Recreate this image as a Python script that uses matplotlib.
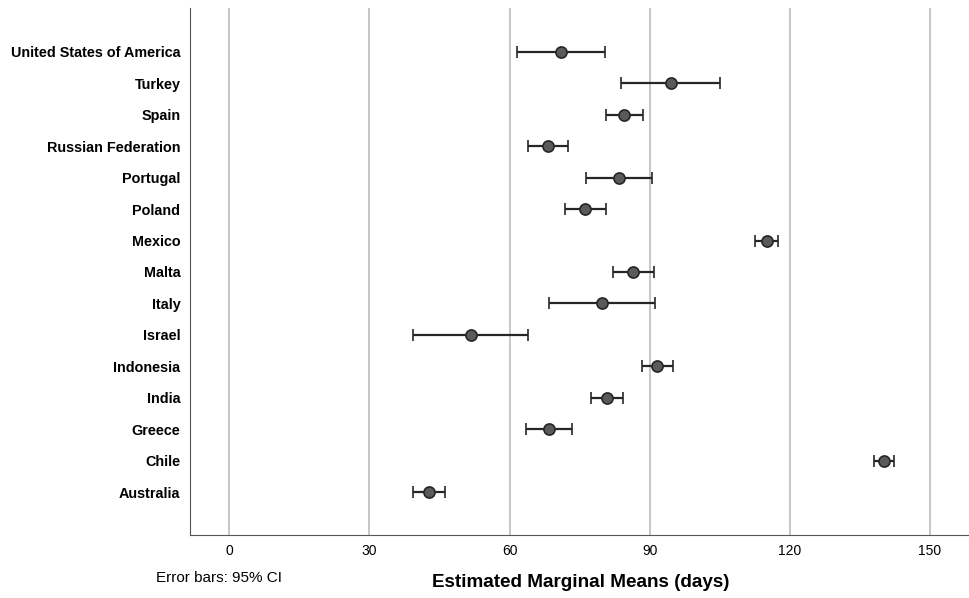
import matplotlib.pyplot as plt
import numpy as np

plt.rcParams['font.family'] = ['Liberation Sans', 'DejaVu Sans']

countries = ["Australia", "Chile", "Greece", "India", "Indonesia", "Israel", "Italy",
             "Malta", "Mexico", "Poland", "Portugal", "Russian Federation", "Spain",
             "Turkey", "United States of America"]
means = [42.7, 140.1, 68.5, 80.8, 91.6, 51.7, 79.8, 86.5, 115.1, 76.2, 83.4, 68.3, 84.6, 94.6, 71.0]
ci_low = [39.3, 138.1, 63.6, 77.4, 88.4, 39.3, 68.5, 82.2, 112.5, 71.9, 76.4, 64.0, 80.7, 83.9, 61.6]
ci_high = [46.1, 142.4, 73.4, 84.2, 95.0, 63.9, 91.2, 90.9, 117.6, 80.6, 90.5, 72.6, 88.5, 105.0, 80.5]

means = np.array(means)
err = [means - np.array(ci_low), np.array(ci_high) - means]
ypos = np.arange(len(countries))

fig = plt.figure(figsize=(9.7, 5.98), dpi=100)
ax = fig.add_axes([0.196, 0.105, 0.802, 0.882])

for xv in [0, 30, 60, 90, 120, 150]:
    ax.axvline(xv, color='#bdbdbd', lw=1.2, zorder=0)

ax.errorbar(means, ypos, xerr=err, fmt='o', color='#262626', ecolor='#262626',
            elinewidth=1.6, capsize=4, capthick=1.6, markersize=8,
            markerfacecolor='#5a5a5a', markeredgecolor='#262626', markeredgewidth=1.2)

ax.set_xlim(-8.4, 158.2)
ax.set_ylim(-1.37, 15.4)
ax.set_xticks([0, 30, 60, 90, 120, 150])
ax.set_yticks(ypos)
ax.set_yticklabels(countries, fontsize=10.4, fontweight='bold')
ax.tick_params(axis='y', length=0, pad=7)
ax.tick_params(axis='x', length=0, labelsize=10, pad=6)
for s in ['top', 'right']:
    ax.spines[s].set_visible(False)
ax.spines['left'].set_color('#555555')
ax.spines['bottom'].set_color('#555555')

fig.text(0.5985, 0.012, "Estimated Marginal Means (days)", fontsize=13.6, fontweight='bold',
         ha='center', va='bottom')
fig.text(0.161, 0.022, "Error bars: 95% CI", fontsize=11, ha='left', va='bottom')

fig.savefig("out.png", dpi=100)
